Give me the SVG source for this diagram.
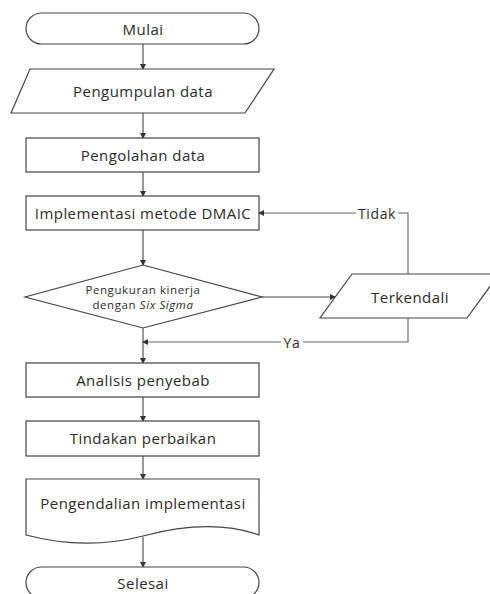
<svg xmlns="http://www.w3.org/2000/svg" width="490" height="594" viewBox="0 0 490 594">
<style>
.s{fill:#fff;stroke:#444;stroke-width:1.2}
.t{font-family:"Open Sans","Noto Sans",sans-serif;font-size:15px;letter-spacing:0.45px;fill:#2b2b2b;text-anchor:middle;dominant-baseline:central}
.sm{font-size:11.5px;letter-spacing:0.6px}
.lb{font-size:14px;letter-spacing:0.6px}
.c{fill:none;stroke:#444;stroke-width:1.1}
.g{fill:none;stroke:#666;stroke-width:1.1}
</style>
<defs>
<marker id="ah" markerWidth="6" markerHeight="6" refX="5" refY="3" orient="auto" markerUnits="userSpaceOnUse">
<path d="M0,0 L6,3 L0,6 Z" fill="#333"/>
</marker>
</defs>
<rect width="490" height="594" fill="#fff"/>
<g id="connectors">
<line class="c" x1="143" y1="44" x2="143" y2="69" marker-end="url(#ah)"/>
<line class="c" x1="143" y1="113" x2="143" y2="138" marker-end="url(#ah)"/>
<line class="c" x1="143" y1="172" x2="143" y2="196" marker-end="url(#ah)"/>
<line class="c" x1="143" y1="230" x2="143" y2="265" marker-end="url(#ah)"/>
<line class="c" x1="262" y1="297" x2="335" y2="297" marker-end="url(#ah)"/>
<polyline class="g" points="408,274 408,213 398,213"/>
<line class="g" x1="356" y1="213" x2="259" y2="213" marker-end="url(#ah)"/>
<polyline class="g" points="408,318 408,342 303,342"/>
<line class="g" x1="281" y1="342" x2="143" y2="342" marker-end="url(#ah)"/>
<line class="c" x1="143" y1="328" x2="143" y2="363" marker-end="url(#ah)"/>
<line class="c" x1="143" y1="397" x2="143" y2="421" marker-end="url(#ah)"/>
<line class="c" x1="143" y1="456" x2="143" y2="479" marker-end="url(#ah)"/>
<line class="c" x1="143" y1="537" x2="143" y2="567" marker-end="url(#ah)"/>
<text class="t lb" x="377" y="213">Tidak</text>
<text class="t lb" x="292" y="342">Ya</text>
</g>
<g id="mulai">
<rect class="s" x="26" y="13" width="233" height="31" rx="15.5"/>
<text class="t" x="143" y="29">Mulai</text>
</g>
<g id="pengumpulan">
<polygon class="s" points="30,69 274,69 245,113 11,113"/>
<text class="t" x="143" y="91">Pengumpulan data</text>
</g>
<g id="pengolahan">
<rect class="s" x="26" y="138" width="233" height="34"/>
<text class="t" x="143" y="155">Pengolahan data</text>
</g>
<g id="dmaic">
<rect class="s" x="26" y="196" width="233" height="34"/>
<text class="t" x="143" y="213">Implementasi metode DMAIC</text>
</g>
<g id="pengukuran">
<polygon class="s" points="143,265 262,297 143,328 25,297"/>
<text class="t sm" x="143" y="289">Pengukuran kinerja</text>
<text class="t sm" x="143" y="304">dengan <tspan font-style="italic">Six Sigma</tspan></text>
</g>
<g id="terkendali">
<polygon class="s" points="352,274 499,274 467,318 320,318"/>
<text class="t" x="410" y="297">Terkendali</text>
</g>
<g id="analisis">
<rect class="s" x="26" y="363" width="233" height="34"/>
<text class="t" x="143" y="380">Analisis penyebab</text>
</g>
<g id="tindakan">
<rect class="s" x="26" y="421" width="233" height="35"/>
<text class="t" x="143" y="438">Tindakan perbaikan</text>
</g>
<g id="pengendalian">
<path class="s" d="M26,479 H259 V535 C228,524 192,523 143,536 C100,547 60,544 26,535 Z"/>
<text class="t" x="143" y="503">Pengendalian implementasi</text>
</g>
<g id="selesai">
<rect class="s" x="26" y="567" width="233" height="31" rx="15.5"/>
<text class="t" x="143" y="583">Selesai</text>
</g>
</svg>
